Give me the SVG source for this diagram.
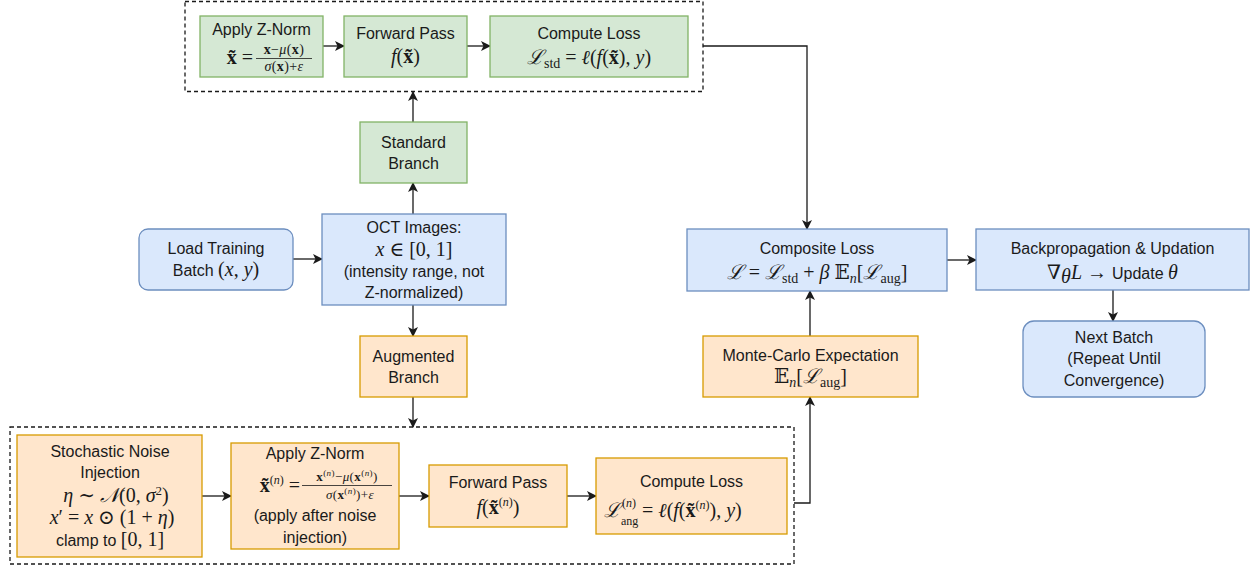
<svg xmlns="http://www.w3.org/2000/svg" width="1253" height="569" viewBox="0 0 1253 569">
<style>
.t{font-family:"Liberation Sans",Arial,sans-serif;font-size:16px;fill:#1a1a1a;text-anchor:middle}
.m{font-family:"Liberation Serif","DejaVu Serif",serif;font-size:20px;fill:#1a1a1a;text-anchor:middle;font-style:italic}
.fr{font-family:"Liberation Serif","DejaVu Serif",serif;font-size:14px;fill:#1a1a1a;text-anchor:middle;font-style:italic;letter-spacing:0.4px}
.up{font-style:normal}
.b{font-style:normal;font-weight:bold}
.g{fill:#d5e8d4;stroke:#82b366;stroke-width:1.3}
.bl{fill:#dae8fc;stroke:#6c8ebf;stroke-width:1.3}
.o{fill:#ffe6cc;stroke:#d79b00;stroke-width:1.3}
.dash{fill:none;stroke:#1a1a1a;stroke-width:1.3;stroke-dasharray:4 3}
.c{fill:none;stroke:#1a1a1a;stroke-width:1.3;marker-end:url(#ah)}
.bar{stroke:#1a1a1a;stroke-width:0.8}
</style>
<defs>
<marker id="ah" viewBox="0 0 10 10" refX="9" refY="5" markerWidth="10" markerHeight="10" markerUnits="userSpaceOnUse" orient="auto">
<path d="M0,0 L10,5 L0,10 L2.5,5 Z" fill="#1a1a1a"/>
</marker>
</defs>
<rect width="1253" height="569" fill="#ffffff"/>

<g id="std-group">
<rect class="dash" x="185" y="1.5" width="518" height="90"/>
</g>
<g id="aug-group">
<rect class="dash" x="10" y="427" width="784" height="137"/>
</g>

<g id="connectors">
<path class="c" d="M323,46 L344,46"/>
<path class="c" d="M467,46 L490,46"/>
<path class="c" d="M703,46 L807,46 L807,229"/>
<path class="c" d="M413,122 L413,92"/>
<path class="c" d="M413,214 L413,183"/>
<path class="c" d="M293,259 L322,259"/>
<path class="c" d="M413,305 L413,336"/>
<path class="c" d="M413,397 L413,427"/>
<path class="c" d="M202,496 L231,496"/>
<path class="c" d="M399,496 L429,496"/>
<path class="c" d="M567,496 L596,496"/>
<path class="c" d="M794,503 L810,503 L810,397"/>
<path class="c" d="M810,336 L810,291"/>
<path class="c" d="M947,260 L976,260"/>
<path class="c" d="M1113,290 L1113,321"/>
</g>

<g id="zn-std">
<rect class="g" x="200" y="16" width="123" height="61"/>
<text class="t" x="261.5" y="35">Apply Z-Norm</text>
<text class="m" x="253" y="64" style="text-anchor:end"><tspan class="b">x̃</tspan><tspan class="up"> = </tspan></text>
<text class="fr" x="284" y="54"><tspan class="b">x</tspan><tspan class="up">−</tspan>μ<tspan class="up">(</tspan><tspan class="b">x</tspan><tspan class="up">)</tspan></text>
<line class="bar" x1="256" y1="58.5" x2="312" y2="58.5"/>
<text class="fr" x="284" y="71">σ<tspan class="up">(</tspan><tspan class="b">x</tspan><tspan class="up">)+</tspan>ε</text>
</g>

<g id="fp-std">
<rect class="g" x="344" y="16" width="123" height="61"/>
<text class="t" x="405.5" y="39">Forward Pass</text>
<text class="m" x="405.5" y="63">f<tspan class="up">(</tspan><tspan class="b">x̃</tspan><tspan class="up">)</tspan></text>
</g>

<g id="cl-std">
<rect class="g" x="490" y="16" width="198" height="61"/>
<text class="t" x="589" y="39">Compute Loss</text>
<text class="m" x="589" y="64">ℒ<tspan class="up" font-size="14" dy="4">std</tspan><tspan class="up" dy="-4"> = </tspan>ℓ<tspan class="up">(</tspan>f<tspan class="up">(</tspan><tspan class="b">x̃</tspan><tspan class="up">), </tspan>y<tspan class="up">)</tspan></text>
</g>

<g id="std-branch">
<rect class="g" x="360" y="122" width="107" height="61"/>
<text class="t" x="413.5" y="148">Standard</text>
<text class="t" x="413.5" y="169">Branch</text>
</g>

<g id="load">
<rect class="bl" x="139" y="229" width="154" height="61" rx="9"/>
<text class="t" x="216" y="254">Load Training</text>
<text class="t" x="216" y="276">Batch <tspan class="m" style="font-style:normal">(</tspan><tspan class="m">x</tspan><tspan class="m" style="font-style:normal">, </tspan><tspan class="m">y</tspan><tspan class="m" style="font-style:normal">)</tspan></text>
</g>

<g id="oct">
<rect class="bl" x="322" y="214" width="184" height="91"/>
<text class="t" x="414" y="233">OCT Images:</text>
<text class="m" x="414" y="256">x<tspan class="up"> ∈ [0, 1]</tspan></text>
<text class="t" x="414" y="277">(intensity range, not</text>
<text class="t" x="414" y="298">Z-normalized)</text>
</g>

<g id="aug-branch">
<rect class="o" x="360" y="336" width="107" height="61"/>
<text class="t" x="413.5" y="362">Augmented</text>
<text class="t" x="413.5" y="383">Branch</text>
</g>

<g id="noise">
<rect class="o" x="17" y="435" width="185" height="122"/>
<text class="t" x="110" y="457">Stochastic Noise</text>
<text class="t" x="110" y="478">Injection</text>
<text class="m" x="116" y="502">η<tspan class="up"> ∼ </tspan>𝒩<tspan class="up">(0, </tspan>σ<tspan class="up" font-size="13" dy="-7">2</tspan><tspan class="up" dy="7">)</tspan></text>
<text class="m" x="112" y="524">x<tspan class="up">′ = </tspan>x<tspan class="up"> ⊙ (1 + </tspan>η<tspan class="up">)</tspan></text>
<text class="t" x="110" y="546">clamp to <tspan class="m up">[0, 1]</tspan></text>
</g>

<g id="zn-aug">
<rect class="o" x="231" y="443" width="168" height="106"/>
<text class="t" x="315" y="459">Apply Z-Norm</text>
<text class="m" x="300" y="492" style="text-anchor:end"><tspan class="b">x̃</tspan><tspan class="up" font-size="12" dy="-8">(</tspan><tspan font-size="12">n</tspan><tspan class="up" font-size="12">)</tspan><tspan class="up" dy="8"> = </tspan></text>
<text class="fr" x="347" y="481" style="font-size:13px"><tspan class="b">x</tspan><tspan class="up" font-size="9" dy="-5">(</tspan><tspan font-size="9">n</tspan><tspan class="up" font-size="9">)</tspan><tspan class="up" dy="5">−</tspan>μ<tspan class="up">(</tspan><tspan class="b">x</tspan><tspan class="up" font-size="9" dy="-5">(</tspan><tspan font-size="9">n</tspan><tspan class="up" font-size="9">)</tspan><tspan class="up" dy="5">)</tspan></text>
<line class="bar" x1="302" y1="485.5" x2="392" y2="485.5"/>
<text class="fr" x="350" y="499" style="font-size:13px">σ<tspan class="up">(</tspan><tspan class="b">x</tspan><tspan class="up" font-size="9" dy="-5">(</tspan><tspan font-size="9">n</tspan><tspan class="up" font-size="9">)</tspan><tspan class="up" dy="5">)+</tspan>ε</text>
<text class="t" x="315" y="521">(apply after noise</text>
<text class="t" x="315" y="543">injection)</text>
</g>

<g id="fp-aug">
<rect class="o" x="429" y="465" width="138" height="62"/>
<text class="t" x="498" y="488">Forward Pass</text>
<text class="m" x="498" y="514">f<tspan class="up">(</tspan><tspan class="b">x̃</tspan><tspan class="up" font-size="12" dy="-8">(</tspan><tspan font-size="12">n</tspan><tspan class="up" font-size="12">)</tspan><tspan class="up" dy="8">)</tspan></text>
</g>

<g id="cl-aug">
<rect class="o" x="596" y="458" width="191" height="76"/>
<text class="t" x="691.5" y="487">Compute Loss</text>
<text class="m" x="604" y="517" style="text-anchor:start">ℒ</text>
<text class="m" x="622" y="507" style="font-size:12px;text-anchor:start"><tspan class="up">(</tspan>n<tspan class="up">)</tspan></text>
<text class="m" x="621" y="525" style="font-size:12px;text-anchor:start"><tspan class="up">ang</tspan></text>
<text class="m" x="642" y="517" style="text-anchor:start"><tspan class="up">= </tspan>ℓ<tspan class="up">(</tspan>f<tspan class="up">(</tspan><tspan class="b">x̃</tspan><tspan class="up" font-size="12" dy="-8">(</tspan><tspan font-size="12">n</tspan><tspan class="up" font-size="12">)</tspan><tspan class="up" dy="8">), </tspan>y<tspan class="up">)</tspan></text>
</g>

<g id="mc">
<rect class="o" x="703" y="336" width="215" height="61"/>
<text class="t" x="810.5" y="361">Monte-Carlo Expectation</text>
<text class="m" x="810.5" y="383"><tspan class="up">𝔼</tspan><tspan font-size="14" dy="4">n</tspan><tspan class="up" dy="-4">[</tspan>ℒ<tspan class="up" font-size="14" dy="4">aug</tspan><tspan class="up" dy="-4">]</tspan></text>
</g>

<g id="composite">
<rect class="bl" x="687" y="229" width="260" height="62"/>
<text class="t" x="817" y="254">Composite Loss</text>
<text class="m" x="817" y="279">ℒ<tspan class="up"> = </tspan>ℒ<tspan class="up" font-size="14" dy="4">std</tspan><tspan class="up" dy="-4"> + </tspan>β<tspan class="up"> 𝔼</tspan><tspan font-size="14" dy="4">n</tspan><tspan class="up" dy="-4">[</tspan>ℒ<tspan class="up" font-size="14" dy="4">aug</tspan><tspan class="up" dy="-4">]</tspan></text>
</g>

<g id="backprop">
<rect class="bl" x="976" y="229" width="273" height="61"/>
<text class="t" x="1112.5" y="254">Backpropagation &amp; Updation</text>
<text class="t" x="1112.5" y="279"><tspan class="m up">∇</tspan><tspan class="m" font-size="13" dy="4">θ</tspan><tspan class="m" dy="-4">L</tspan><tspan class="m up"> → </tspan>Update  <tspan class="m">θ</tspan></text>
</g>

<g id="next">
<rect class="bl" x="1023" y="321" width="182" height="76" rx="11"/>
<text class="t" x="1114" y="343">Next Batch</text>
<text class="t" x="1114" y="364">(Repeat Until</text>
<text class="t" x="1114" y="386">Convergence)</text>
</g>
</svg>
